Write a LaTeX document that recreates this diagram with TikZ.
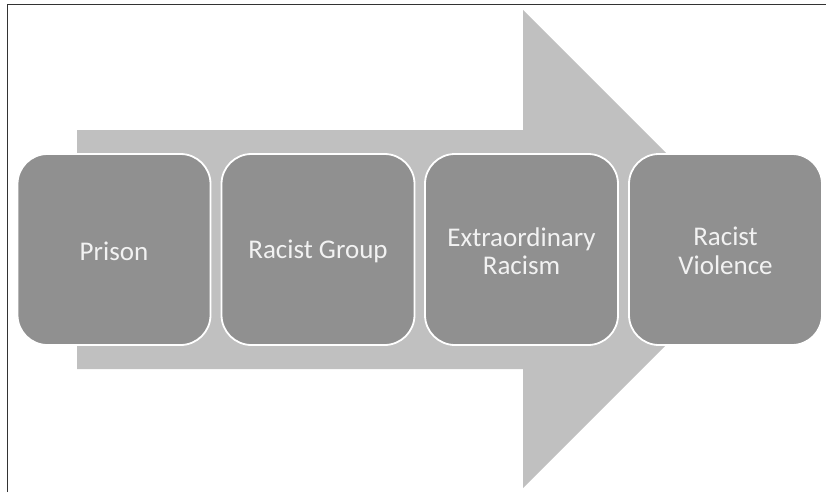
\documentclass[tikz,border=0pt]{standalone}
\usepackage{fontspec}
\setmainfont{Carlito}
\definecolor{boxgray}{HTML}{909090}
\definecolor{arrowgray}{HTML}{C0C0C0}
\definecolor{txt}{HTML}{F2F2F2}
\begin{document}
\begin{tikzpicture}[x=1pt,y=-1pt,
  stepbox/.style={draw=white, line width=1.8pt, fill=boxgray, rounded corners=30pt,
    minimum width=193pt, minimum height=191pt, inner sep=0pt},
  steptext/.style={text=txt, font=\fontsize{27}{28.5}\selectfont, align=center, inner sep=0pt}]
\useasboundingbox (0,0) rectangle (826,492);
\fill[white] (0,0) rectangle (826,492);
\draw[line width=1pt, black!80] (7.5,492) -- (7.5,4.5) -- (826,4.5);
\fill[arrowgray] (77,130) -- (523,130) -- (523,10) -- (762,249) -- (523,488) -- (523,369) -- (77,369) -- cycle;
\node[stepbox] (p) at (114,249.5) {};
\node[stepbox] (g) at (318,249.5) {};
\node[stepbox] (e) at (521.5,249.5) {};
\node[stepbox] (v) at (725.5,249.5) {};
\node[steptext] (pt) at ([yshift=-1.5pt]p.center) {Prison};
\node[steptext] (gt) at ([yshift=-1.5pt]g.center) {Racist Group};
\node[steptext] (et) at ([yshift=-1.5pt]e.center) {Extraordinary\\Racism};
\node[steptext] (vt) at ([yshift=-1.5pt]v.center) {Racist\\Violence};
\end{tikzpicture}
\end{document}
